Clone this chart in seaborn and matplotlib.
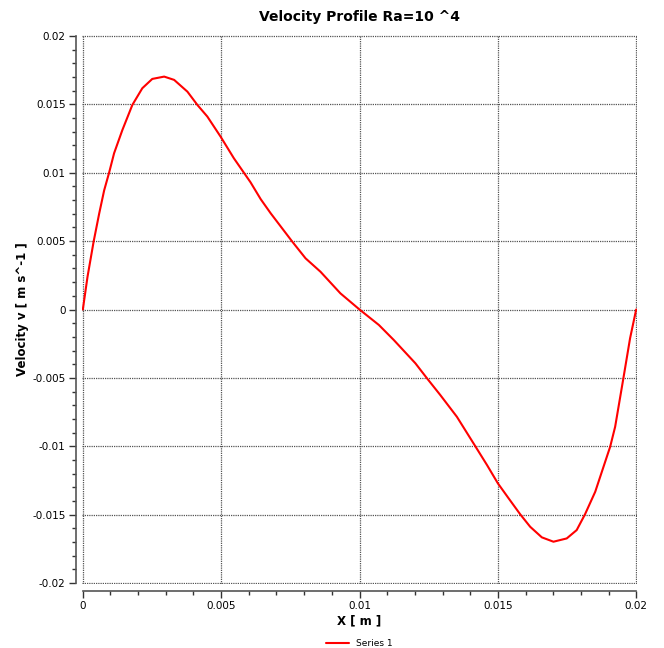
import matplotlib
matplotlib.use("Agg")
import matplotlib.pyplot as plt
import matplotlib.ticker as mticker
import seaborn as sns
import pandas as pd

x_m = [0.0, 0.00017, 0.00039, 0.00059, 0.00077, 0.00095, 0.00113, 0.00143, 0.00179, 0.00215,
       0.00251, 0.00294, 0.0033, 0.00378, 0.00414, 0.0045, 0.00498, 0.00546, 0.00582, 0.00606,
       0.00643, 0.00679, 0.00757, 0.00805, 0.00859, 0.00931, 0.01, 0.0107, 0.01124, 0.01202,
       0.01244, 0.01292, 0.01352, 0.01412, 0.01461, 0.015, 0.01539, 0.01581, 0.01617, 0.01659,
       0.01701, 0.01749, 0.01785, 0.01815, 0.01852, 0.01882, 0.01906, 0.01924, 0.01954, 0.01978,
       0.02]
velocity = [0.0, 0.0024, 0.00496, 0.0070, 0.0087, 0.0100, 0.01142, 0.01312, 0.01495, 0.01617,
            0.01685, 0.01702, 0.01678, 0.01592, 0.01495, 0.0141, 0.01263, 0.01105, 0.0100, 0.0093,
            0.00806, 0.00703, 0.00496, 0.00374, 0.00276, 0.00118, 0.0, -0.00113, -0.00223, -0.00393,
            -0.00503, -0.00625, -0.00784, -0.00978, -0.01137, -0.0127, -0.0138, -0.01497, -0.01588, -0.01665,
            -0.01697, -0.01673, -0.01612, -0.01497, -0.01332, -0.01149, -0.01003, -0.00857, -0.005, -0.0021,
            0.0]
series_name = "Series 1"

df = pd.DataFrame({"x": x_m, "v": velocity, "s": series_name})

sns.set_style("white")
plt.rcParams["font.family"] = ["DejaVu Sans"]
plt.rcParams["axes.unicode_minus"] = False
plt.rcParams["text.color"] = "black"
plt.rcParams["axes.labelcolor"] = "black"

fig = plt.figure(figsize=(6.64, 6.48), dpi=100)
ax = fig.add_axes([82/664, 1-584/648, (637-82)/664, (584-35)/648])

sns.lineplot(data=df, x="x", y="v", hue="s", palette=["#ff0000"], linewidth=1.5,
             ax=ax, sort=False, legend=True)

ax.set_xlim(-0.00003, 0.02003)
ax.set_ylim(-0.02006, 0.02006)
ax.xaxis.set_major_locator(mticker.MultipleLocator(0.005))
ax.xaxis.set_minor_locator(mticker.MultipleLocator(0.001))
ax.yaxis.set_major_locator(mticker.MultipleLocator(0.005))
ax.yaxis.set_minor_locator(mticker.MultipleLocator(0.001))
fmt = mticker.FuncFormatter(lambda v, p: "0" if abs(v) < 1e-12 else ("%g" % round(v, 4)))
ax.xaxis.set_major_formatter(fmt)
ax.yaxis.set_major_formatter(fmt)

ax.grid(True, which="major", color="#555555", linestyle=(0, (1, 0.8)), linewidth=0.9)
ax.set_axisbelow(True)

for s in ["top", "right"]:
    ax.spines[s].set_visible(False)
ax.spines["left"].set_position(("outward", 4.3))
ax.spines["bottom"].set_position(("outward", 5))
ax.spines["left"].set_bounds(-0.02, 0.02)
ax.spines["bottom"].set_bounds(0, 0.02)
ax.spines["left"].set_color("#555555")
ax.spines["bottom"].set_color("#555555")
ax.spines["left"].set_linewidth(1.2)
ax.spines["bottom"].set_linewidth(1.2)

ax.tick_params(axis="both", which="major", direction="out", length=5, width=1, colors="#333333",
               labelsize=7.5, labelcolor="black", left=True, bottom=True, pad=2.5)
ax.tick_params(axis="both", which="minor", direction="out", length=3, width=1, colors="#333333",
               left=True, bottom=True)

ax.set_xlabel("X [ m ]", fontsize=8.5, fontweight="bold", labelpad=2, color="black")
ax.set_ylabel("Velocity v [ m s^-1 ]", fontsize=8.5, fontweight="bold", labelpad=2, color="black")
ax.set_title("Velocity Profile Ra=10 ^4", fontsize=10, fontweight="bold", pad=10, color="black")

leg = ax.legend(loc="upper center", bbox_to_anchor=(0.5, -0.085), frameon=False,
                fontsize=6.5, handlelength=2.5, title=None)

fig.savefig("out.png", dpi=100)
